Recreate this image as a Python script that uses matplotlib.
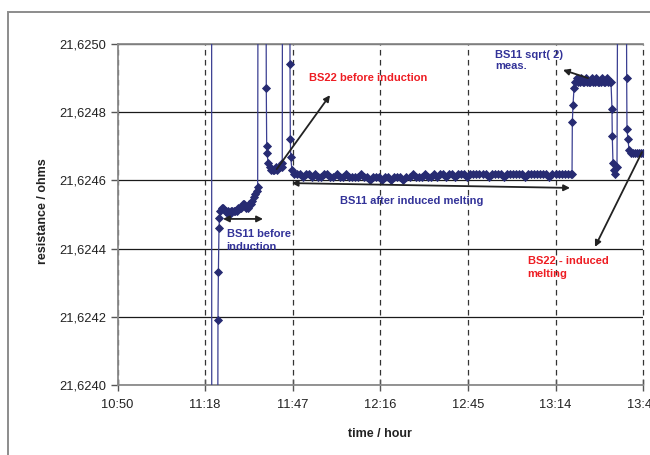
import matplotlib
matplotlib.use("Agg")
import matplotlib.pyplot as plt
from matplotlib.patches import Rectangle
from matplotlib.ticker import FixedLocator, FuncFormatter

plt.rcParams['font.family'] = ['Liberation Sans', 'DejaVu Sans']
plt.rcParams['lines.scale_dashes'] = False

# --- data (time of day, resistance in ohms) ---
# first excursion, mostly off scale
spike_t = ["11:20:55", "11:21:00", "11:22:50", "11:22:56"]
spike_r = [21.62620, 21.62330, 21.62340, 21.62370]

# BS11 before induction
before_t = ["11:23:02", "11:23:10", "11:23:22", "11:23:32", "11:23:45",
            "11:24:15", "11:24:45", "11:25:15", "11:25:45", "11:26:15",
            "11:26:45", "11:27:15", "11:27:45", "11:28:15", "11:28:45",
            "11:29:15", "11:29:45", "11:30:15", "11:30:45", "11:31:15",
            "11:31:45", "11:32:15", "11:32:45", "11:33:15", "11:33:45",
            "11:34:15", "11:34:45", "11:35:15", "11:35:45", "11:36:05",
            "11:36:20"]
before_r = [21.62419, 21.62433, 21.62446, 21.62449, 21.62451,
            21.62452, 21.62452, 21.62451, 21.62451, 21.62451,
            21.62450, 21.62451, 21.62451, 21.62451, 21.62451,
            21.62451, 21.62452, 21.62452, 21.62452, 21.62453,
            21.62453, 21.62452, 21.62452, 21.62453, 21.62453,
            21.62454, 21.62455, 21.62456, 21.62457, 21.62458,
            21.62600]

# BS22 before induction
bs22_t = ["11:38:40", "11:38:55", "11:39:03", "11:39:12", "11:39:30",
          "11:40:00", "11:40:30", "11:41:00", "11:41:30", "11:42:00",
          "11:42:30", "11:43:00", "11:43:30", "11:44:00", "11:44:10",
          "11:44:20"]
bs22_r = [21.62600, 21.62487, 21.62470, 21.62468, 21.62465,
          21.62464, 21.62463, 21.62463, 21.62463, 21.62464,
          21.62463, 21.62464, 21.62464, 21.62464, 21.62465,
          21.62600]

# BS11 after induced melting
after_t = ["11:46:33", "11:46:43", "11:46:49", "11:46:57", "11:47:20", "11:48:00",
           "11:49", "11:50", "11:51", "11:52", "11:53", "11:54", "11:55", "11:56", "11:57", "11:58",
           "11:59", "12:00", "12:01", "12:02", "12:03", "12:04", "12:05", "12:06", "12:07", "12:08",
           "12:09", "12:10", "12:11", "12:12", "12:13", "12:14", "12:15", "12:16", "12:17", "12:18",
           "12:19", "12:20", "12:21", "12:22", "12:23", "12:24", "12:25", "12:26", "12:27", "12:28",
           "12:29", "12:30", "12:31", "12:32", "12:33", "12:34", "12:35", "12:36", "12:37", "12:38",
           "12:39", "12:40", "12:41", "12:42", "12:43", "12:44", "12:45", "12:46", "12:47", "12:48",
           "12:49", "12:50", "12:51", "12:52", "12:53", "12:54", "12:55", "12:56", "12:57", "12:58",
           "12:59", "13:00", "13:01", "13:02", "13:03", "13:04", "13:05", "13:06", "13:07", "13:08",
           "13:09", "13:10", "13:11", "13:12", "13:13", "13:14", "13:15", "13:16", "13:17", "13:18",
           "13:19", "13:19:26"]
after_r = [21.62600, 21.62494, 21.62472, 21.62467, 21.62463, 21.62462,
           21.62462, 21.62462, 21.62461, 21.62462, 21.62462, 21.62461, 21.62462, 21.62461, 21.62461, 21.62462,
           21.62462, 21.62461, 21.62461, 21.62462, 21.62461, 21.62461, 21.62462, 21.62461, 21.62461, 21.62461,
           21.62461, 21.62462, 21.62461, 21.62461, 21.62460, 21.62461, 21.62461, 21.62461, 21.62460, 21.62461,
           21.62461, 21.62460, 21.62461, 21.62461, 21.62461, 21.62460, 21.62461, 21.62461, 21.62462, 21.62461,
           21.62461, 21.62461, 21.62462, 21.62461, 21.62461, 21.62462, 21.62461, 21.62462, 21.62462, 21.62461,
           21.62462, 21.62462, 21.62461, 21.62462, 21.62462, 21.62462, 21.62461, 21.62462, 21.62462, 21.62462,
           21.62462, 21.62462, 21.62462, 21.62461, 21.62462, 21.62462, 21.62462, 21.62462, 21.62461, 21.62462,
           21.62462, 21.62462, 21.62462, 21.62462, 21.62462, 21.62461, 21.62462, 21.62462, 21.62462, 21.62462,
           21.62462, 21.62462, 21.62462, 21.62461, 21.62462, 21.62462, 21.62462, 21.62462, 21.62462, 21.62462,
           21.62462, 21.62462]

# BS11 sqrt(2) measurement
sqrt2_t = ["13:19:32", "13:19:45", "13:20:05", "13:20:25", "13:20:55", "13:21:25",
           "13:21:55", "13:22:25", "13:22:55", "13:23:25", "13:23:55", "13:24:25",
           "13:24:55", "13:25:25", "13:25:55", "13:26:25", "13:26:55", "13:27:25",
           "13:27:55", "13:28:25", "13:28:55", "13:29:25", "13:29:55", "13:30:25",
           "13:30:55", "13:31:25", "13:31:55", "13:32:14", "13:32:34", "13:32:40",
           "13:32:54", "13:33:14", "13:33:43", "13:34:13", "13:34:45"]
sqrt2_r = [21.62477, 21.62482, 21.62487, 21.62489, 21.62490, 21.62489,
           21.62489, 21.62490, 21.62489, 21.62489, 21.62490, 21.62489,
           21.62489, 21.62489, 21.62490, 21.62489, 21.62489, 21.62490,
           21.62489, 21.62489, 21.62489, 21.62490, 21.62489, 21.62489,
           21.62490, 21.62489, 21.62489, 21.62489, 21.62481, 21.62473,
           21.62465, 21.62463, 21.62462, 21.62464, 21.62600]

# BS22 - induced melting
end_t = ["13:37:04", "13:37:24", "13:37:30", "13:37:50", "13:38:10", "13:38:50",
         "13:39:30", "13:40:10", "13:40:50", "13:41:30", "13:42:10", "13:42:50",
         "13:43:30"]
end_r = [21.62600, 21.62490, 21.62475, 21.62472, 21.62469, 21.62468,
         21.62468, 21.62468, 21.62468, 21.62468, 21.62468, 21.62468,
         21.62468]

y_ticks = [21.6240, 21.6242, 21.6244, 21.6246, 21.6248, 21.6250]


def minutes(s):
    parts = [int(p) for p in s.split(":")]
    m = parts[0] * 60 + parts[1]
    if len(parts) == 3:
        m += parts[2] / 60.0
    return m


t = [minutes(s) for s in spike_t + before_t + bs22_t + after_t + sqrt2_t + end_t]
r = spike_r + before_r + bs22_r + after_r + sqrt2_r + end_r

# excel style time axis: start 10:50, major unit 0.02 day (28.8 min)
x0 = minutes("10:50")
x_ticks = [x0 + 28.8 * k for k in range(7)]

fig = plt.figure(figsize=(6.5, 4.55), dpi=100)
fig.patches.append(Rectangle((8 / 650, -0.2), 1.2, 1.2 - 12 / 455,
                             transform=fig.transFigure, fill=False,
                             edgecolor='#8c8c8c', lw=1.4))
ax = fig.add_axes([117.5 / 650, 1 - 385 / 455, 525.6 / 650, 341 / 455])

ax.plot(t, r, color='#3b3f92', lw=0.9, marker='D', ms=4.0,
        mfc='#272b72', mec='#272b72', mew=0.6, zorder=3)

ax.set_xlim(x_ticks[0], x_ticks[-1])
ax.set_ylim(21.6240, 21.6250)
ax.xaxis.set_major_locator(FixedLocator(x_ticks))
ax.yaxis.set_major_locator(FixedLocator(y_ticks))
ax.xaxis.set_major_formatter(FuncFormatter(
    lambda v, p: "%d:%02d" % (int((v + 1e-6) // 60), int((v + 1e-6) % 60))))
ax.yaxis.set_major_formatter(FuncFormatter(lambda v, p: ("%.4f" % v).replace('.', ',')))

ax.set_axisbelow(True)
ax.yaxis.grid(True, color='#1a1a1a', lw=0.9)
ax.xaxis.grid(True, color='#333333', lw=0.9, linestyle=(0, (4.0, 3.2)))
for gl in ax.get_xgridlines():
    gl.set_clip_on(False)

for side in ['left', 'bottom', 'top']:
    ax.spines[side].set_color('#8a8a8a')
    ax.spines[side].set_linewidth(1.3)
ax.spines['right'].set_visible(False)
ax.tick_params(axis='y', direction='out', length=5, width=1, color='#555555',
               labelsize=9.3, pad=3, labelcolor='#222222')
ax.tick_params(axis='x', direction='inout', length=8, width=1, color='#555555',
               labelsize=9.3, pad=6, labelcolor='#222222')

ax.set_ylabel('resistance / ohms', fontsize=9, fontweight='bold', color='#222222')
ax.yaxis.set_label_coords(-0.13, 0.51)
ax.set_xlabel('time / hour', fontsize=9, fontweight='bold', color='#222222')
ax.xaxis.set_label_coords(0.5, -0.126)

blue = '#333399'
red = '#ee1d23'
arrow = dict(arrowstyle='-|>', color='#222222', lw=1.3, mutation_scale=9,
             shrinkA=0, shrinkB=0)
both = dict(arrow, arrowstyle='<|-|>')

ax.annotate('', xy=(684.68, 21.624487), xytext=(697.84, 21.624487), arrowprops=both, zorder=4)
ax.text(685.9, 21.624424, 'BS11 before\ninduction', color=blue, fontsize=8,
        fontweight='bold', ha='left', va='center', linespacing=1.3)

ax.annotate('', xy=(719.86, 21.624850), xytext=(702.34, 21.624633), arrowprops=arrow, zorder=4)
ax.text(712.96, 21.624900, 'BS22 before induction', color=red, fontsize=8,
        fontweight='bold', ha='left', va='center')

ax.annotate('', xy=(707.27, 21.624592), xytext=(798.77, 21.624578), arrowprops=both, zorder=4)
ax.text(723.15, 21.624540, 'BS11 after induced melting', color=blue, fontsize=8,
        fontweight='bold', ha='left', va='center')

ax.annotate('', xy=(796.46, 21.624924), xytext=(804.68, 21.624900), arrowprops=arrow, zorder=4)
ax.text(774.11, 21.624952, 'BS11 sqrt( 2)\nmeas.', color=blue, fontsize=8,
        fontweight='bold', ha='left', va='center', linespacing=1.15)

ax.annotate('', xy=(806.98, 21.624405), xytext=(822.44, 21.624683), arrowprops=arrow, zorder=4)
ax.text(784.86, 21.624345, 'BS22 - induced\nmelting', color=red, fontsize=8,
        fontweight='bold', ha='left', va='center', linespacing=1.3)

fig.savefig('out.png', dpi=100)
